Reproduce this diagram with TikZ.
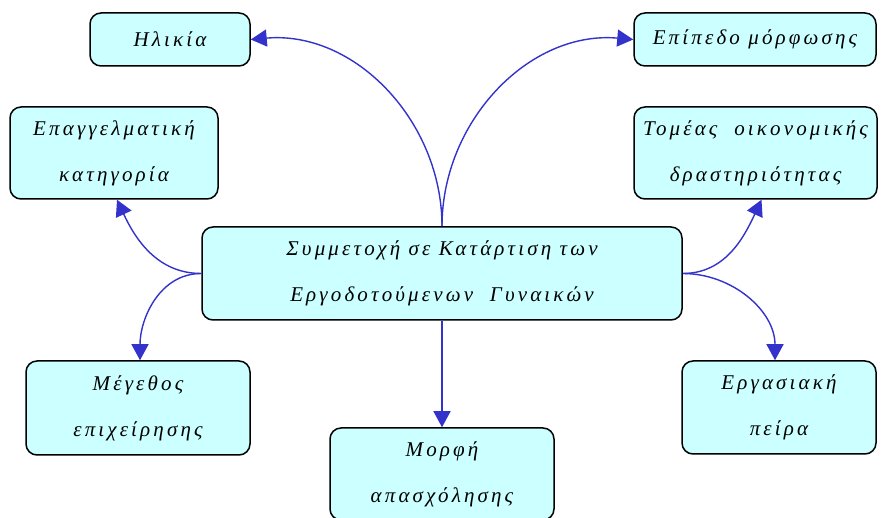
\documentclass[tikz,border=0pt]{standalone}
\usepackage{fontspec}
\setmainfont{Liberation Serif}[LetterSpace=15]
\usepackage{tikz}
\usetikzlibrary{arrows.meta}
\definecolor{boxfill}{RGB}{204,255,255}
\definecolor{linkblue}{RGB}{51,51,204}

\begin{document}
\begin{tikzpicture}[x=1pt, y=1pt, font=\fontsize{21}{46}\selectfont\itshape,
  box/.style={draw=black, line width=1.5pt, fill=boxfill, rounded corners=11pt, align=center, inner sep=0pt},
  link/.style={draw=linkblue, line width=1.4pt, -{Triangle[length=16pt, width=17pt]}}]
  \useasboundingbox (0,0) rectangle (882,518);
  \node[box, minimum width=480pt, minimum height=93pt] (main) at (442,244.5) {Συμμετοχή σε Κατάρτιση των\\Εργοδοτούμενων~ Γυναικών};
  \node[box, minimum width=160pt, minimum height=53pt] (age) at (170,478.5) {Ηλικία};
  \node[box, minimum width=242pt, minimum height=53pt] (edu) at (755,478.5) {Επίπεδο μόρφωσης};
  \node[box, minimum width=208pt, minimum height=92pt] (occ) at (114,365) {Επαγγελματική\\κατηγορία};
  \node[box, minimum width=243pt, minimum height=92pt] (sector) at (755.5,365) {Τομέας~ οικονομικής\\δραστηριότητας};
  \node[box, minimum width=224pt, minimum height=94pt] (size) at (138,110) {Μέγεθος\\επιχείρησης};
  \node[box, minimum width=224pt, minimum height=92pt] (form) at (442,44) {Μορφή\\απασχόλησης};
  \node[box, minimum width=194pt, minimum height=93pt] (exp) at (779,110.5) {Εργασιακή\\πείρα};
  % connectors
  \draw[link] (main.north) to[out=90, in=5] (age.east);
  \draw[link] (main.north) to[out=90, in=175] (edu.west);
  \draw[link] (main.west) to[out=180, in=-65] ([xshift=3pt]occ.south);
  \draw[link] (main.west) to[out=180, in=90] ([xshift=2pt]size.north);
  \draw[link] (main.east) to[out=0, in=-115] ([xshift=6pt]sector.south);
  \draw[link] (main.east) to[out=0, in=90] ([xshift=-4pt]exp.north);
  \draw[link] (main.south) -- (form.north);
\end{tikzpicture}
\end{document}
